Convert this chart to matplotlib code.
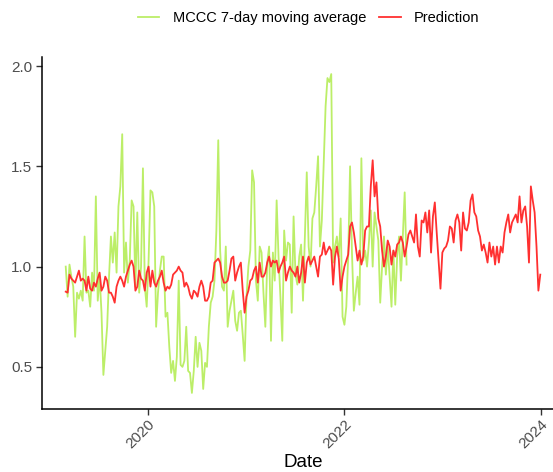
import numpy as np
import pandas as pd
import matplotlib
matplotlib.use("Agg")
import matplotlib.pyplot as plt

plt.rcParams['font.family'] = ['Liberation Sans', 'DejaVu Sans']

# weekly series, starting 3 March 2019
start = "2019-03-03"

mccc_avg = [
    1.00, 0.85, 1.01, 0.95, 0.90, 0.65, 0.87, 0.84, 0.88, 0.83,
    1.15, 0.87, 0.88, 0.80, 0.97, 0.88, 1.35, 0.83, 0.95, 0.77,
    0.46, 0.58, 0.70, 0.95, 1.15, 1.02, 1.17, 0.97, 1.30, 1.40,
    1.66, 0.97, 1.12, 0.92, 1.03, 1.33, 1.30, 0.90, 1.27, 0.87,
    1.00, 1.49, 0.90, 0.80, 1.03, 1.38, 1.37, 1.30, 0.70, 0.87,
    0.98, 1.05, 1.05, 0.75, 0.77, 0.60, 0.47, 0.53, 0.43, 0.55,
    0.93, 0.51, 0.50, 0.53, 0.70, 0.48, 0.47, 0.37, 0.48, 0.65,
    0.50, 0.62, 0.58, 0.39, 0.52, 0.50, 0.70, 0.82, 0.85, 0.93,
    1.18, 1.63, 1.08, 0.90, 0.88, 1.10, 0.70, 0.78, 0.83, 0.88,
    0.73, 0.68, 0.77, 0.78, 0.66, 0.53, 0.85, 1.00, 1.08, 1.48,
    1.42, 0.93, 0.83, 1.10, 1.07, 0.87, 0.70, 1.02, 1.10, 0.63,
    1.07, 0.93, 1.33, 1.05, 0.85, 0.63, 1.18, 1.03, 1.12, 1.11,
    0.77, 1.25, 0.96, 0.91, 1.05, 1.11, 0.83, 1.15, 1.47, 1.10,
    1.00, 1.24, 1.27, 1.40, 1.55, 1.10, 1.23, 1.52, 1.80, 1.94,
    1.92, 1.96, 1.02, 1.10, 1.15, 1.05, 1.24, 0.75, 0.71, 0.80,
    1.05, 1.50, 1.07, 0.78, 0.87, 0.95, 0.81, 1.54, 1.03, 1.08,
    1.00, 1.12, 1.28, 1.00, 1.27, 1.20, 1.13, 0.82, 1.00, 1.15,
    0.96, 1.10, 0.95, 0.80, 1.08, 0.81, 1.05, 1.15, 0.93, 1.15,
    1.37, 1.01,
]

prediction = [
    0.875, 0.87, 0.96, 0.94, 0.93, 0.92, 0.95, 0.98, 0.93, 0.94,
    0.93, 0.88, 0.95, 0.89, 0.88, 0.92, 0.90, 0.94, 0.97, 0.88,
    0.90, 0.95, 0.93, 0.87, 0.87, 0.85, 0.82, 0.90, 0.93, 0.95,
    0.93, 0.90, 0.95, 0.98, 1.01, 1.03, 1.00, 0.88, 0.90, 0.98,
    0.94, 0.93, 0.88, 0.97, 1.00, 0.90, 0.98, 0.92, 0.90, 0.93,
    0.95, 0.98, 0.92, 0.88, 0.90, 0.89, 0.91, 0.96, 0.97, 0.98,
    1.00, 0.98, 0.97, 0.90, 0.92, 0.90, 0.86, 0.84, 0.88, 0.87,
    0.85, 0.90, 0.93, 0.90, 0.83, 0.83, 0.85, 0.92, 0.93, 1.02,
    1.03, 1.04, 1.02, 0.95, 0.92, 0.92, 0.93, 0.98, 1.04, 1.05,
    0.93, 0.97, 1.00, 1.02, 0.88, 0.77, 0.85, 0.88, 0.93, 0.94,
    0.98, 1.00, 0.92, 1.02, 0.95, 0.95, 0.97, 1.02, 1.05, 1.00,
    1.03, 1.02, 1.03, 0.97, 1.00, 1.02, 1.05, 0.93, 0.97, 1.00,
    0.98, 0.97, 0.95, 1.00, 0.92, 0.97, 1.05, 0.92, 1.02, 1.05,
    1.01, 1.03, 1.05, 1.00, 0.95, 1.05, 1.06, 1.12, 1.06, 1.08,
    1.10, 1.08, 0.91, 1.05, 1.10, 1.04, 0.88, 0.95, 1.00, 1.03,
    1.06, 1.20, 1.22, 1.17, 1.10, 1.03, 1.08, 1.01, 1.05, 1.18,
    1.20, 1.20, 1.40, 1.53, 1.35, 1.42, 1.24, 1.20, 1.08, 1.00,
    1.05, 1.13, 1.10, 1.01, 1.08, 1.05, 1.11, 1.12, 1.15, 1.12,
    1.05, 1.10, 1.16, 1.18, 1.15, 1.12, 1.26, 1.10, 1.05, 1.23,
    1.22, 1.27, 1.17, 1.28, 1.07, 1.25, 1.32, 1.17, 1.03, 0.89,
    1.07, 1.09, 1.10, 1.13, 1.20, 1.19, 1.12, 1.23, 1.26, 1.22,
    1.08, 1.27, 1.19, 1.18, 1.22, 1.33, 1.36, 1.27, 1.25, 1.18,
    1.15, 1.08, 1.11, 1.07, 1.02, 1.12, 1.05, 1.10, 1.01, 1.10,
    1.02, 1.10, 1.07, 1.17, 1.22, 1.26, 1.17, 1.22, 1.24, 1.26,
    1.22, 1.35, 1.22, 1.28, 1.30, 1.20, 1.02, 1.40, 1.33, 1.27,
    1.10, 0.88, 0.96,
]

year_ticks = ["2020", "2022", "2024"]

dates_avg = pd.date_range(start, periods=len(mccc_avg), freq="7D")
dates_pred = pd.date_range(start, periods=len(prediction), freq="7D")

fig = plt.figure(figsize=(5.53, 4.72), dpi=100)
# panel runs a little past the right edge of the canvas
ax = fig.add_axes([42 / 553, 63 / 472, 522 / 553, 352 / 472])

ax.plot(dates_avg, mccc_avg, color="#BCEE68", lw=1.3, label="MCCC 7-day moving average")
ax.plot(dates_pred, prediction, color="#FF3030", lw=1.3, label="Prediction")

span = dates_pred[-1] - dates_pred[0]
ax.set_xlim(dates_pred[0] - span * 0.05, dates_pred[-1] + span * 0.05)
ax.set_ylim(0.29, 2.045)

ax.set_xticks([pd.Timestamp(y + "-01-01") for y in year_ticks])
ax.set_xticklabels(year_ticks, rotation=45, ha="right", rotation_mode="anchor")
ax.set_yticks([0.5, 1.0, 1.5, 2.0])
ax.set_yticklabels(["0.5", "1.0", "1.5", "2.0"])

for side in ["top", "right"]:
    ax.spines[side].set_visible(False)
for side in ["left", "bottom"]:
    ax.spines[side].set_linewidth(1.1)
    ax.spines[side].set_color("black")
ax.tick_params(axis="both", length=4, width=1.0, color="#333333",
               labelcolor="#4D4D4D", labelsize=11, pad=3)
ax.tick_params(axis="x", pad=2)

ax.set_xlabel("Date", fontsize=13.5, color="black", labelpad=2)

fig.legend(loc="center", bbox_to_anchor=(308.5 / 553, 1 - 18 / 472), ncol=2,
           frameon=False, fontsize=10.5, handlelength=1.5, handletextpad=0.9,
           columnspacing=0.9)

fig.savefig("out.png", dpi=100)
